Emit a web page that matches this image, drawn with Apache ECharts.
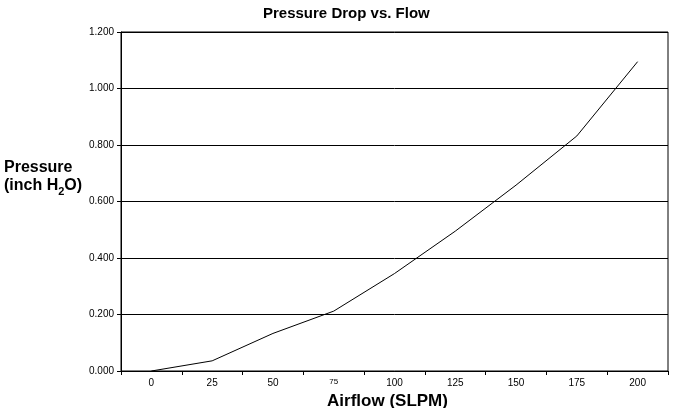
<!DOCTYPE html>
<html>
<head>
<meta charset="utf-8">
<script src="https://cdn.jsdelivr.net/npm/echarts@6/dist/echarts.min.js"></script>
<style>
  html, body { margin: 0; padding: 0; background: #fff; }
  #chart { width: 675px; height: 408px; }
</style>
</head>
<body>
<div id="chart"></div>
<script>
  // airflow categories (SLPM)
  var flowLabels = ['0', '25', '50', '75', '100', '125', '150', '175', '200'];
  // pressure drop (inch H2O)
  var pressure = [0.000, 0.036, 0.133, 0.212, 0.345, 0.495, 0.658, 0.832, 1.095];

  var chart = echarts.init(document.getElementById('chart'));
  var font = 'Liberation Sans, Arial, sans-serif';

  var option = {
    animation: false,
    backgroundColor: '#fff',
    title: {
      text: 'Pressure Drop vs. Flow',
      left: 258,
      top: 1,
      textStyle: { fontFamily: font, fontSize: 15, fontWeight: 'bold', color: '#000' }
    },
    graphic: [{
      type: 'text',
      left: 4,
      top: 160,
      style: {
        text: '{a|Pressure}\n{a|(inch H}{s|2}{a|O)}',
        rich: {
          a: { fontFamily: font, fontSize: 16, fontWeight: 'bold', fill: '#000', lineHeight: 18 },
          s: { fontFamily: font, fontSize: 11, fontWeight: 'bold', fill: '#000', lineHeight: 18, padding: [11, 0, 0, 0] }
        }
      }
    }],
    grid: {
      left: 121,
      right: 7,
      top: 32,
      bottom: 37,
      outerBoundsMode: 'none',
      containLabel: false,
      show: true,
      borderColor: '#000',
      borderWidth: 1
    },
    xAxis: {
      type: 'category',
      data: flowLabels,
      boundaryGap: true,
      name: 'Airflow (SLPM)',
      nameLocation: 'middle',
      nameGap: 20,
      nameTextStyle: { fontFamily: font, fontSize: 17, fontWeight: 'bold', color: '#000', padding: [0, 0, 0, -14] },
      axisLine: { lineStyle: { color: '#000', width: 1 } },
      axisTick: { show: true, length: 4, lineStyle: { color: '#000' } },
      axisLabel: {
        fontFamily: font,
        fontSize: 10,
        color: '#000',
        margin: 7,
        formatter: function (v) {
          return v === '75' ? '{s|75}' : v;
        },
        rich: {
          s: { fontFamily: font, fontSize: 8, color: '#000' }
        }
      },
      splitLine: { show: false }
    },
    yAxis: {
      type: 'value',
      min: 0,
      max: 1.2,
      interval: 0.2,
      axisLine: { show: true, lineStyle: { color: '#000', width: 1 } },
      axisTick: { show: true, length: 4, lineStyle: { color: '#000' } },
      axisLabel: {
        fontFamily: font,
        fontSize: 10,
        color: '#000',
        margin: 7,
        formatter: function (v) { return v.toFixed(3); }
      },
      splitLine: { show: true, lineStyle: { color: '#000', width: 1 } }
    },
    series: [{
      type: 'line',
      data: pressure,
      symbol: 'none',
      lineStyle: { color: '#000', width: 1 }
    }]
  };

  chart.setOption(option);
</script>
</body>
</html>
